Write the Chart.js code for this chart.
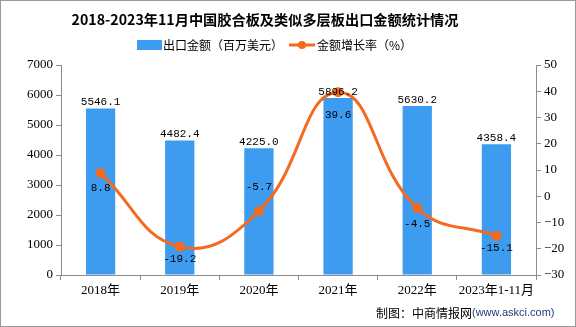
<!DOCTYPE html>
<html><head><meta charset="utf-8">
<script src="https://cdn.jsdelivr.net/npm/chart.js@4"></script>
<style>html,body{margin:0;padding:0;background:#fff}#c{display:block}</style>
</head><body>
<canvas id="c" width="576" height="327"></canvas>
<script>
const categories = ['2018年','2019年','2020年','2021年','2022年','2023年1-11月'];
const exportValues = [5546.1, 4482.4, 4225.0, 5896.2, 5630.2, 4358.4];
const growthRates = [8.8, -19.2, -5.7, 39.6, -4.5, -15.1];
const leftTicks = [0,1000,2000,3000,4000,5000,6000,7000];
const rightTicks = [-30,-20,-10,0,10,20,30,40,50];
// label placement (pixels from point centre to label centre), styling only
const growthLabelOffset = [15, 12, -24, 23, 16, 12];

const BAR = '#3d9cf0', LINE = '#f46a1e', AXIS = '#8c8c8c';
const numFont = '"Liberation Serif", "Noto Sans CJK SC", serif';
const monoFont = '"Liberation Mono", "DejaVu Sans Mono", monospace';

const deco = {
  id: 'deco',
  afterDatasetsDraw(chart) {
    const ctx = chart.ctx;
    ctx.save();
    const bm = chart.getDatasetMeta(0);
    ctx.font = '11px ' + monoFont;
    ctx.fillStyle = '#000';
    ctx.textAlign = 'center';
    ctx.textBaseline = 'bottom';
    bm.data.forEach((el, i) => {
      ctx.fillText(exportValues[i].toFixed(1), el.x, el.y - 1);
    });
    const lm = chart.getDatasetMeta(1);
    ctx.textBaseline = 'middle';
    lm.data.forEach((el, i) => {
      ctx.fillText(growthRates[i].toFixed(1), el.x, el.y + growthLabelOffset[i]);
    });
    ctx.restore();
  },
  afterDraw(chart) {
    const ctx = chart.ctx;
    ctx.save();
    ctx.fillStyle = '#000';
    ctx.textAlign = 'center';
    ctx.textBaseline = 'middle';
    ctx.font = 'bold 14.2px "Noto Sans CJK SC", sans-serif';
    ctx.fillText('2018-2023年11月中国胶合板及类似多层板出口金额统计情况', 265, 20);
    ctx.textAlign = 'left';
    ctx.font = '12px "Noto Sans CJK SC", sans-serif';
    ctx.fillStyle = BAR;
    ctx.fillRect(137, 40, 25, 10);
    ctx.fillStyle = '#000';
    ctx.fillText('出口金额（百万美元）', 163, 45);
    ctx.strokeStyle = LINE; ctx.lineWidth = 3;
    ctx.beginPath(); ctx.moveTo(289, 45); ctx.lineTo(315, 45); ctx.stroke();
    ctx.fillStyle = LINE;
    ctx.beginPath(); ctx.arc(302, 45, 4, 0, Math.PI*2); ctx.fill();
    ctx.fillStyle = '#000';
    ctx.fillText('金额增长率（%）', 317, 45);
    ctx.font = '12px "Noto Sans CJK SC", sans-serif';
    ctx.fillText('制图：中商情报网', 376, 313);
    const w = ctx.measureText('制图：中商情报网').width;
    ctx.fillStyle = '#1d3c78';
    ctx.font = '11px "Liberation Sans", sans-serif';
    ctx.fillText('(www.askci.com)', 376 + w, 313);
    ctx.strokeStyle = '#9a9a9a'; ctx.lineWidth = 1;
    ctx.strokeRect(0.5, 0.5, 575, 326);
    ctx.restore();
  }
};

new Chart(document.getElementById('c'), {
  data: {
    labels: categories,
    datasets: [
      { type: 'bar', label: '出口金额（百万美元）', data: exportValues, backgroundColor: BAR,
        yAxisID: 'y', categoryPercentage: 1, barPercentage: 0.37, order: 2 },
      { type: 'line', label: '金额增长率（%）', data: growthRates, borderColor: LINE, backgroundColor: LINE,
        borderWidth: 3, tension: 0.45, pointRadius: 5, pointBackgroundColor: LINE, pointBorderWidth: 0,
        yAxisID: 'y1', order: 1 }
    ]
  },
  options: {
    responsive: false, animation: false, devicePixelRatio: 1,
    layout: { padding: { top: 65, left: 0, right: 0, bottom: 0 } },
    plugins: { legend: { display: false }, title: { display: false }, tooltip: { enabled: false } },
    scales: {
      x: {
        offset: true,
        grid: { offset: true, drawOnChartArea: false, color: AXIS, tickLength: 5 },
        border: { color: AXIS },
        ticks: { color: '#000', font: { family: numFont, size: 13 }, padding: 3, maxRotation: 0, autoSkip: false },
        afterFit(s) { s.height = 52; }
      },
      y: {
        position: 'left', min: 0, max: 7000,
        afterBuildTicks(s) { s.ticks = leftTicks.map(v => ({ value: v })); },
        grid: { drawOnChartArea: false, color: AXIS, tickLength: 5 },
        border: { color: AXIS },
        ticks: { color: '#000', font: { family: numFont, size: 13 }, padding: 3, callback: v => String(v) },
        afterFit(s) { s.width = 61; }
      },
      y1: {
        position: 'right', min: -30, max: 50,
        afterBuildTicks(s) { s.ticks = rightTicks.map(v => ({ value: v })); },
        grid: { drawOnChartArea: false, color: AXIS, tickLength: 5 },
        border: { color: AXIS },
        ticks: { color: '#000', font: { family: numFont, size: 13 }, padding: 3,
          callback: v => (v < 0 ? '\u2212' + Math.abs(v) : String(v)) },
        afterFit(s) { s.width = 40; }
      }
    }
  },
  plugins: [deco]
});
</script>
</body></html>
